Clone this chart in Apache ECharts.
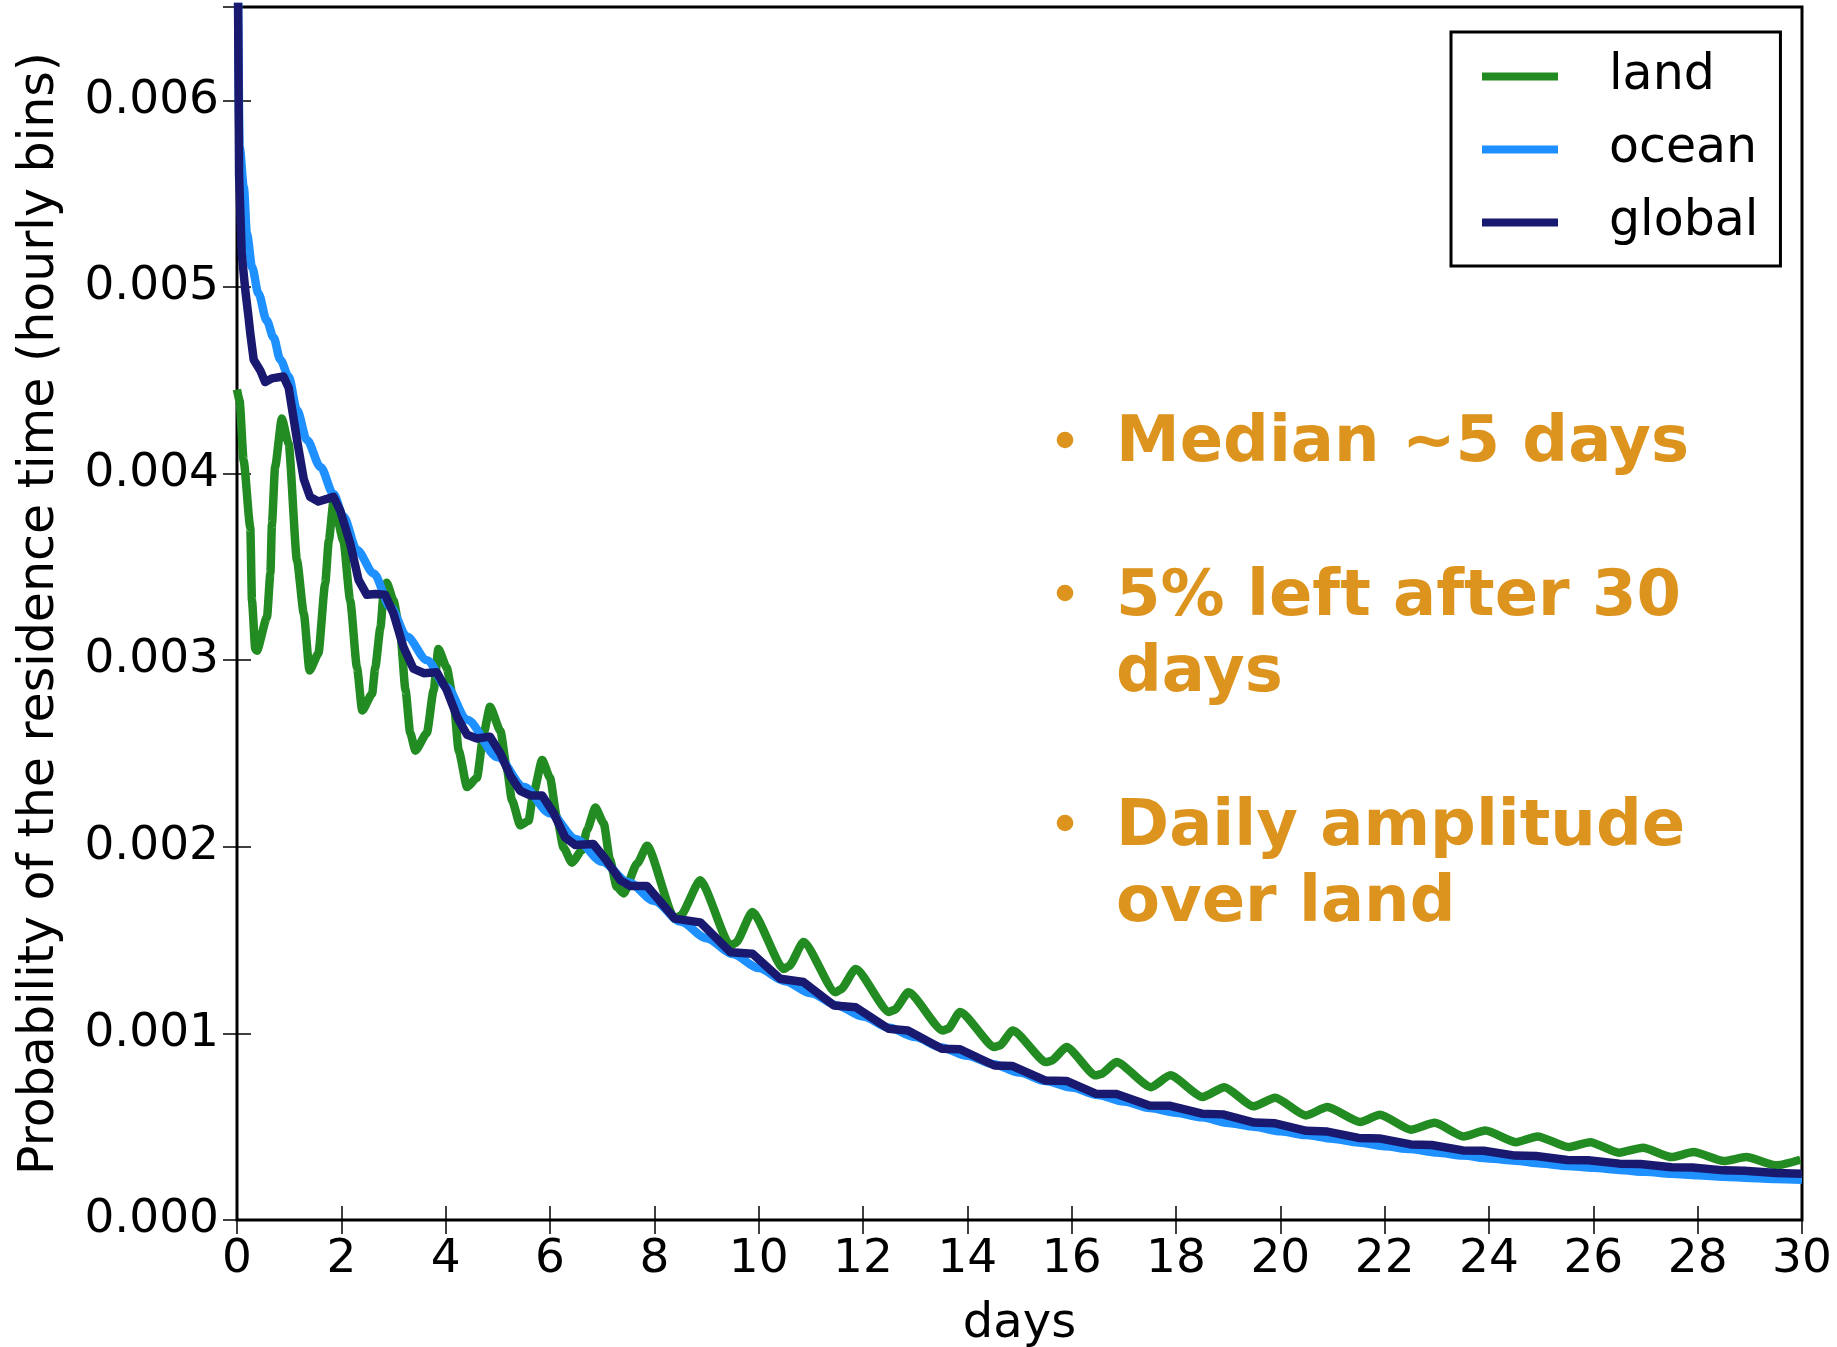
<!DOCTYPE html>
<html>
<head>
<meta charset="utf-8">
<script src="https://cdn.jsdelivr.net/npm/echarts@6/dist/echarts.min.js"></script>
<style>
  html, body { margin: 0; padding: 0; background: #fff; }
  #chart { width: 1837px; height: 1347px; }
</style>
</head>
<body>
<div id="chart"></div>
<script>
// Values are in units of 1e-3 (probability per hourly bin); x = days
const seriesNames = ['land', 'ocean', 'global'];
const yTickLabels = ['0.000', '0.001', '0.002', '0.003', '0.004', '0.005', '0.006'];
const xTickLabels = ['0','2','4','6','8','10','12','14','16','18','20','22','24','26','28','30'];

const land = [
  [0.0, 4.45], [0.05, 4.39], [0.127, 4.07], [0.255, 3.71], [0.287, 3.32], [0.35, 3.06], [0.38, 3.05],
  [0.575, 3.23], [0.64, 3.465], [0.67, 3.73], [0.73, 4.035], [0.86, 4.295],
  [0.99, 4.16], [1.15, 3.535], [1.28, 3.25], [1.39, 2.945],
  [1.56, 3.035], [1.69, 3.41], [1.76, 3.64], [1.85, 3.85],
  [2.04, 3.64], [2.17, 3.32], [2.30, 2.96], [2.40, 2.73],
  [2.59, 2.82], [2.65, 2.96], [2.75, 3.175], [2.81, 3.355], [2.87, 3.415],
  [3.0, 3.32], [3.13, 3.145], [3.23, 2.84], [3.32, 2.61], [3.42, 2.515],
  [3.64, 2.61], [3.77, 2.84], [3.86, 3.06],
  [4.02, 2.96], [4.15, 2.785], [4.25, 2.515], [4.41, 2.32],
  [4.60, 2.37], [4.73, 2.61], [4.85, 2.75],
  [5.05, 2.62], [5.17, 2.425], [5.27, 2.25], [5.43, 2.115],
  [5.59, 2.14], [5.68, 2.285], [5.85, 2.465],
  [6.0, 2.37], [6.13, 2.16], [6.26, 1.995], [6.42, 1.915],
  [6.61, 1.98], [6.71, 2.09], [6.87, 2.21],
  [7.03, 2.125], [7.15, 1.93], [7.28, 1.785], [7.41, 1.75],
  [7.67, 1.91], [7.86, 2.005],
  [8.39, 1.615], [8.50, 1.63], [8.88, 1.82],
  [9.46, 1.47], [9.56, 1.485], [9.88, 1.65],
  [10.48, 1.345], [10.58, 1.36], [10.86, 1.49],
  [11.47, 1.22], [11.57, 1.235], [11.86, 1.345],
  [12.50, 1.115], [12.60, 1.125], [12.87, 1.22],
  [13.53, 1.015], [13.63, 1.025], [13.86, 1.115],
  [14.52, 0.927], [14.62, 0.935], [14.87, 1.015],
  [15.51, 0.846], [15.61, 0.853], [15.90, 0.927],
  [16.46, 0.775], [16.56, 0.782], [16.86, 0.846],
  [17.52, 0.712], [17.89, 0.775],
  [18.51, 0.659], [18.93, 0.712],
  [19.48, 0.609], [19.90, 0.655],
  [20.49, 0.560], [20.90, 0.605],
  [21.53, 0.525], [21.91, 0.564],
  [22.50, 0.484], [22.96, 0.521],
  [23.51, 0.448], [23.93, 0.480],
  [24.52, 0.417], [24.93, 0.448],
  [25.52, 0.391], [25.94, 0.417],
  [26.49, 0.361], [26.95, 0.387],
  [27.50, 0.337], [27.92, 0.364],
  [28.50, 0.316], [28.93, 0.337],
  [29.51, 0.293], [29.97, 0.323]
];

const ocean = [
  [0.0, 7.5], [0.05, 5.75], [0.13, 5.535], [0.19, 5.285], [0.29, 5.105], [0.41, 4.965],
  [0.57, 4.82], [0.70, 4.73], [0.83, 4.61], [0.99, 4.52], [1.15, 4.34], [1.34, 4.18],
  [1.60, 4.035], [1.85, 3.89], [2.04, 3.77], [2.30, 3.59], [2.62, 3.465], [2.94, 3.285],
  [3.26, 3.125], [3.64, 3.0], [4.02, 2.855], [4.41, 2.68], [5.0, 2.48], [5.5, 2.32],
  [6.0, 2.18], [6.5, 2.04], [7.0, 1.92], [7.5, 1.81], [8.0, 1.71], [8.5, 1.60],
  [9.0, 1.51], [9.5, 1.425], [10.0, 1.35], [10.5, 1.28], [11.0, 1.215], [11.5, 1.15],
  [12.0, 1.09], [12.5, 1.03], [13.0, 0.98], [13.5, 0.925], [14.0, 0.88], [14.5, 0.835],
  [15.0, 0.79], [15.5, 0.745], [16.0, 0.71], [16.5, 0.67], [17.0, 0.635], [17.5, 0.60],
  [18.0, 0.575], [18.5, 0.55], [19.0, 0.52], [19.5, 0.50], [20.0, 0.475], [20.5, 0.455],
  [21.0, 0.435], [21.5, 0.415], [22.0, 0.395], [22.5, 0.38], [23.0, 0.362], [23.5, 0.345],
  [24.0, 0.33], [24.5, 0.318], [25.0, 0.303], [25.5, 0.29], [26.0, 0.28], [26.5, 0.268],
  [27.0, 0.258], [27.5, 0.248], [28.0, 0.24], [28.5, 0.232], [29.0, 0.225], [29.5, 0.22],
  [30.0, 0.215]
];

const global = [
  [0.0, 7.5], [0.04, 5.6], [0.09, 5.18], [0.16, 4.98], [0.22, 4.84], [0.255, 4.75], [0.32, 4.61],
  [0.45, 4.55], [0.54, 4.49], [0.67, 4.51], [0.89, 4.52], [0.99, 4.46], [1.15, 4.18],
  [1.28, 3.97], [1.40, 3.875], [1.56, 3.85], [1.85, 3.875], [1.98, 3.80], [2.17, 3.625],
  [2.33, 3.43], [2.49, 3.35], [2.65, 3.355], [2.84, 3.35], [3.0, 3.25], [3.19, 3.07],
  [3.38, 2.955], [3.58, 2.93], [3.83, 2.935], [4.02, 2.84], [4.22, 2.695], [4.41, 2.60],
  [4.60, 2.58], [4.85, 2.59], [5.05, 2.50], [5.24, 2.38], [5.43, 2.30], [5.62, 2.275],
  [5.85, 2.275], [6.07, 2.18], [6.29, 2.05], [6.48, 2.01], [6.83, 2.015], [7.06, 1.935],
  [7.35, 1.82], [7.54, 1.79], [7.86, 1.79], [8.39, 1.615], [8.88, 1.595], [9.46, 1.435],
  [9.88, 1.427], [10.41, 1.293], [10.86, 1.275], [11.44, 1.15], [11.86, 1.14],
  [12.49, 1.025], [12.86, 1.016], [13.51, 0.918], [13.86, 0.915], [14.52, 0.828],
  [14.87, 0.825], [15.49, 0.748], [15.90, 0.745], [16.46, 0.677], [16.86, 0.675],
  [17.49, 0.614], [17.89, 0.612], [18.5, 0.570], [18.9, 0.566], [19.5, 0.522], [19.9, 0.518],
  [20.5, 0.478], [20.9, 0.474], [21.5, 0.440], [21.9, 0.437], [22.5, 0.405], [22.9, 0.402],
  [23.5, 0.373], [23.9, 0.371], [24.5, 0.345], [24.9, 0.343], [25.5, 0.322], [25.9, 0.320],
  [26.5, 0.302], [26.9, 0.300], [27.5, 0.283], [27.9, 0.281], [28.5, 0.266], [28.9, 0.264],
  [29.5, 0.252], [30.0, 0.248]
];

const colors = { land: '#228B22', ocean: '#1E90FF', global: '#191970' };
const annotations = [
  ['Median ~5 days'],
  ['5% left after 30', 'days'],
  ['Daily amplitude', 'over land']
];

const FONT = 'DejaVu Sans';
const chart = echarts.init(document.getElementById('chart'), null, { renderer: 'canvas' });

const tickStyle = { show: true, inside: true, length: 14, lineStyle: { color: '#000', width: 1.5 } };
const baseX = { type: 'value', min: 0, max: 30, interval: 2, splitLine: { show: false }, axisLine: { show: false } };
const baseY = { type: 'value', min: 0, max: 6.5, interval: 1, splitLine: { show: false }, axisLine: { show: false } };

const lineSeries = (name, data, smooth) => ({
  name, type: 'line', data, showSymbol: false, symbol: 'none', clip: true,
  smooth: smooth || false, smoothMonotone: 'x',
  xAxisIndex: 0, yAxisIndex: 0,
  lineStyle: { color: colors[name], width: 8.5, join: 'round', cap: 'butt' },
  itemStyle: { color: colors[name] },
  emphasis: { disabled: true }, animation: false
});

// annotation graphics
const annColor = '#DD941E';
const bulletY = [440, 593, 823];
const firstLineMiddle = [444, 598, 828];
const lineStep = 76;
const graphics = [];
annotations.forEach((lines, i) => {
  graphics.push({ type: 'circle', shape: { cx: 1065, cy: bulletY[i], r: 8.3 }, style: { fill: annColor }, z: 100 });
  lines.forEach((t, j) => {
    graphics.push({
      type: 'text', z: 100,
      style: { text: t, x: 1116, y: firstLineMiddle[i] + j * lineStep, fill: annColor,
               font: 'bold 64px "' + FONT + '"', textAlign: 'left', textVerticalAlign: 'middle' }
    });
  });
});

chart.setOption({
  animation: false,
  backgroundColor: '#fff',
  grid: { left: 237, right: 35, top: 7, bottom: 127, containLabel: false, outerBoundsMode: 'none',
          show: true, borderColor: '#000', borderWidth: 3, backgroundColor: 'transparent' },
  legend: {
    data: seriesNames, orient: 'vertical', left: 1451, top: 32,
    padding: [20, 22, 19, 31], itemGap: 24, itemWidth: 76, itemHeight: 8, icon: 'rect',
    borderColor: '#000', borderWidth: 3, backgroundColor: '#fff', borderRadius: 0,
    textStyle: { fontFamily: FONT, fontSize: 49, color: '#000', padding: [0, 0, 0, 46] },
    selectedMode: false, z: 50
  },
  xAxis: [
    Object.assign({}, baseX, {
      position: 'bottom', axisTick: tickStyle,
      name: 'days', nameLocation: 'middle', nameGap: 81,
      nameTextStyle: { fontFamily: FONT, fontSize: 48, color: '#000' },
      axisLabel: { show: true, margin: 16, fontFamily: FONT, fontSize: 47, color: '#000',
                   formatter: (v) => xTickLabels[Math.round(v / 2)] }
    }),
    Object.assign({}, baseX, { position: 'top', axisTick: tickStyle, axisLabel: { show: false } })
  ],
  yAxis: [
    Object.assign({}, baseY, {
      position: 'left', axisTick: tickStyle,
      name: 'Probability of the residence time (hourly bins)', nameLocation: 'middle', nameGap: 172,
      nameRotate: 90,
      nameTextStyle: { fontFamily: FONT, fontSize: 49, color: '#000' },
      axisLabel: { show: true, margin: 18, fontFamily: FONT, fontSize: 47, color: '#000',
                   formatter: (v) => yTickLabels[Math.round(v)] !== undefined ? yTickLabels[Math.round(v)] : '' }
    }),
    Object.assign({}, baseY, { position: 'right', axisTick: tickStyle, axisLabel: { show: false } })
  ],
  series: [lineSeries('land', land, 0.2), lineSeries('ocean', ocean, 0.3), lineSeries('global', global, false)],
  graphic: graphics
});
</script>
</body>
</html>
